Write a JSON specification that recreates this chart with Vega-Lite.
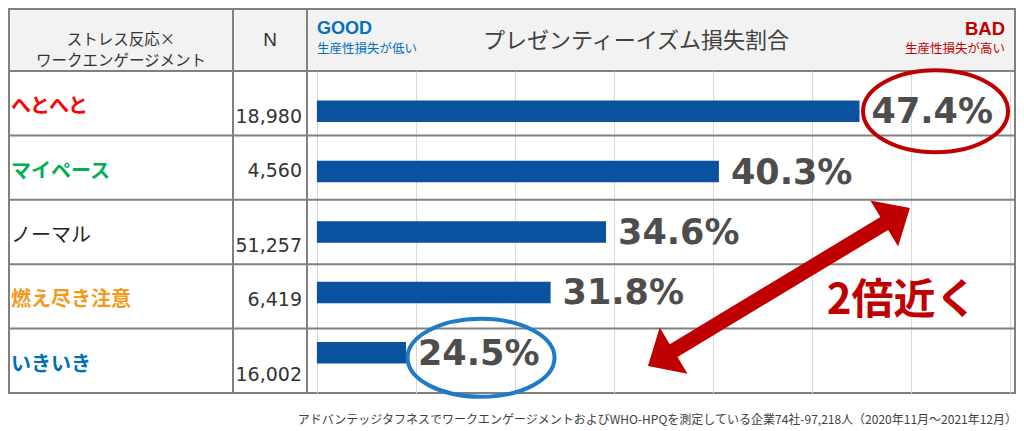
{
  "$schema": "https://vega.github.io/schema/vega-lite/v6.json",
  "padding": {"left": 7, "top": 8, "right": 5, "bottom": 0},
  "background": "white",
  "config": {
    "view": {"stroke": "#808080", "strokeWidth": 2},
    "concat": {"spacing": 0},
    "font": "Noto Sans CJK JP"
  },
  "title": {
    "text": "アドバンテッジタフネスでワークエンゲージメントおよびWHO-HPQを測定している企業74社-97,218人（2020年11月～2021年12月）",
    "orient": "bottom",
    "anchor": "end",
    "baseline": "top",
    "offset": 9,
    "fontSize": 12,
    "fontWeight": "normal",
    "color": "#404040",
    "font": "Noto Sans CJK JP"
  },
  "datasets": {
    "main": [
      {"cat": "へとへと", "N": 18980, "value": 0.474},
      {"cat": "マイペース", "N": 4560, "value": 0.403},
      {"cat": "ノーマル", "N": 51257, "value": 0.346},
      {"cat": "燃え尽き注意", "N": 6419, "value": 0.318},
      {"cat": "いきいき", "N": 16002, "value": 0.245}
    ]
  },
  "columns": 3,
  "spacing": 0,
  "bounds": "flush",
  "concat": [
    {
      "width": 224, "height": 62,
      "view": {"fill": "#f2f2f2", "stroke": "#808080", "strokeWidth": 2},
      "data": {"values": [{}]},
      "mark": {"type": "text", "text": ["ストレス反応×", "ワークエンゲージメント"], "fontSize": 15.5, "lineHeight": 20.5, "align": "center", "baseline": "middle", "fill": "#333333"}
    },
    {
      "width": 74, "height": 62,
      "view": {"fill": "#f2f2f2", "stroke": "#808080", "strokeWidth": 2},
      "data": {"values": [{}]},
      "mark": {"type": "text", "text": "N", "font": "Liberation Sans", "fontSize": 19, "align": "center", "baseline": "middle", "fill": "#333333"}
    },
    {
      "width": 708, "height": 62,
      "view": {"fill": "#f2f2f2", "stroke": "#808080", "strokeWidth": 2},
      "data": {"values": [{}]},
      "layer": [
        {
          "mark": {"type": "text", "text": "GOOD", "font": "Liberation Sans", "fontWeight": "bold", "fontSize": 18, "align": "left", "baseline": "middle", "dy": -11, "fill": "#0070c0"},
          "encoding": {"x": {"datum": 0.2, "type": "quantitative", "scale": {"domain": [0.195, 0.5525], "nice": false, "zero": false}, "axis": null}}
        },
        {
          "mark": {"type": "text", "text": "生産性損失が低い", "fontSize": 12.5, "align": "left", "baseline": "middle", "dy": 8.5, "fill": "#0070c0"},
          "encoding": {"x": {"datum": 0.2, "type": "quantitative"}}
        },
        {
          "mark": {"type": "text", "text": "プレゼンティーイズム損失割合", "fontSize": 22, "align": "center", "baseline": "middle", "dx": -25, "dy": 1, "fill": "#404040"},
          "encoding": {}
        },
        {
          "mark": {"type": "text", "text": "BAD", "font": "Liberation Sans", "fontWeight": "bold", "fontSize": 18.5, "align": "right", "baseline": "middle", "dx": -5, "dy": -11, "fill": "#c00000"},
          "encoding": {"x": {"datum": 0.55, "type": "quantitative"}}
        },
        {
          "mark": {"type": "text", "text": "生産性損失が高い", "fontSize": 12.5, "align": "right", "baseline": "middle", "dx": -5, "dy": 8.5, "fill": "#c00000"},
          "encoding": {"x": {"datum": 0.55, "type": "quantitative"}}
        }
      ]
    },
    {
      "width": 224, "height": 322,
      "data": {"name": "main"},
      "layer": [
        {
          "transform": [{"filter": "datum.cat !== 'へとへと'"}],
          "mark": {"type": "rule", "stroke": "#808080", "strokeWidth": 2},
          "encoding": {"y": {"field": "cat", "type": "nominal", "bandPosition": 0, "sort": null, "scale": {"type": "band", "domain": ["へとへと", "マイペース", "ノーマル", "燃え尽き注意", "いきいき"], "paddingInner": 0, "paddingOuter": 0}, "axis": null}}
        },
        {
          "transform": [{"filter": "datum.cat !== 'ノーマル'"}],
          "mark": {"type": "text", "fontSize": 20, "fontWeight": "bold", "align": "left", "baseline": "middle", "dx": 2, "dy": 4},
          "encoding": {
            "x": {"datum": 0, "type": "quantitative", "scale": {"domain": [0, 1], "nice": false}, "axis": null},
            "y": {"field": "cat", "type": "nominal", "sort": null},
            "text": {"field": "cat"},
            "color": {"field": "cat", "type": "nominal", "scale": {"domain": ["へとへと", "マイペース", "ノーマル", "燃え尽き注意", "いきいき"], "range": ["#ff0000", "#00b050", "#262626", "#f39a1e", "#0070c0"]}, "legend": null}
          }
        },
        {
          "transform": [{"filter": "datum.cat === 'ノーマル'"}],
          "mark": {"type": "text", "fontSize": 20, "fontWeight": "normal", "align": "left", "baseline": "middle", "dx": 2, "dy": 4},
          "encoding": {
            "x": {"datum": 0, "type": "quantitative"},
            "y": {"field": "cat", "type": "nominal", "sort": null},
            "text": {"field": "cat"},
            "color": {"field": "cat", "type": "nominal", "legend": null}
          }
        }
      ]
    },
    {
      "width": 74, "height": 322,
      "data": {"name": "main"},
      "layer": [
        {
          "transform": [{"filter": "datum.cat !== 'へとへと'"}],
          "mark": {"type": "rule", "stroke": "#808080", "strokeWidth": 2},
          "encoding": {"y": {"field": "cat", "type": "nominal", "bandPosition": 0, "sort": null, "scale": {"type": "band", "domain": ["へとへと", "マイペース", "ノーマル", "燃え尽き注意", "いきいき"], "paddingInner": 0, "paddingOuter": 0}, "axis": null}}
        },
        {
          "transform": [{"filter": {"field": "cat", "oneOf": ["へとへと", "ノーマル", "いきいき"]}}],
          "mark": {"type": "text", "font": "DejaVu Sans", "fontSize": 19, "align": "right", "baseline": "middle", "dx": -5, "dy": 14, "fill": "#333333"},
          "encoding": {
            "x": {"datum": 1, "type": "quantitative", "scale": {"domain": [0, 1], "nice": false}, "axis": null},
            "y": {"field": "cat", "type": "nominal", "sort": null},
            "text": {"field": "N", "type": "quantitative", "format": ","}
          }
        },
        {
          "transform": [{"filter": {"field": "cat", "oneOf": ["マイペース", "燃え尽き注意"]}}],
          "mark": {"type": "text", "font": "DejaVu Sans", "fontSize": 19, "align": "right", "baseline": "middle", "dx": -5, "dy": 3.5, "fill": "#333333"},
          "encoding": {
            "x": {"datum": 1, "type": "quantitative"},
            "y": {"field": "cat", "type": "nominal", "sort": null},
            "text": {"field": "N", "type": "quantitative", "format": ","}
          }
        }
      ]
    },
    {
      "width": 708, "height": 322,
      "data": {"name": "main"},
      "resolve": {"scale": {"y": "independent"}},
      "layer": [
        {
          "transform": [{"filter": "datum.cat !== 'へとへと'"}],
          "mark": {"type": "rule", "stroke": "#808080", "strokeWidth": 2},
          "encoding": {"y": {"field": "cat", "type": "nominal", "bandPosition": 0, "sort": null, "scale": {"type": "band", "domain": ["へとへと", "マイペース", "ノーマル", "燃え尽き注意", "いきいき"], "paddingInner": 0, "paddingOuter": 0}, "axis": null}}
        },
        {
          "layer": [
            {
              "mark": {"type": "bar", "color": "#0a52a0"},
              "encoding": {
                "x": {"field": "value", "type": "quantitative", "scale": {"domain": [0.195, 0.5525], "nice": false, "zero": false}, "axis": {"values": [0.2, 0.25, 0.3, 0.35, 0.4, 0.45, 0.5, 0.55], "grid": true, "gridColor": "#d9d9d9", "gridWidth": 1, "labels": false, "ticks": false, "domain": false, "title": null}},
                "x2": {"datum": 0.2},
                "y": {"field": "cat", "type": "nominal", "sort": null, "scale": {"type": "band", "domain": ["へとへと", "マイペース", "ノーマル", "燃え尽き注意", "いきいき"], "paddingInner": 0.644, "paddingOuter": 0.4875}, "axis": null}
              }
            },
            {
              "mark": {"type": "text", "font": "DejaVu Sans", "fontWeight": "bold", "fontSize": 35, "align": "left", "baseline": "middle", "dx": 12, "dy": 1, "fill": "#4d4d4d"},
              "encoding": {
                "x": {"field": "value", "type": "quantitative"},
                "y": {"field": "cat", "type": "nominal", "sort": null},
                "text": {"field": "value", "type": "quantitative", "format": ".1%"}
              }
            },
            {
              "transform": [{"filter": "datum.cat === 'へとへと'"}],
              "mark": {"type": "point", "shape": "M 3.5 0 A 72.5 41 0 1 0 148.5 0 A 72.5 41 0 1 0 3.5 0 Z", "size": 4, "filled": false, "stroke": "#c00000", "strokeWidth": 4, "opacity": 1},
              "encoding": {
                "x": {"field": "value", "type": "quantitative"},
                "y": {"field": "cat", "type": "nominal", "sort": null}
              }
            },
            {
              "transform": [{"filter": "datum.cat === 'いきいき'"}],
              "mark": {"type": "point", "shape": "M 1.5 5 A 73.5 39 0 1 0 148.5 5 A 73.5 39 0 1 0 1.5 5 Z", "size": 4, "filled": false, "stroke": "#1f7bc8", "strokeWidth": 4, "opacity": 1},
              "encoding": {
                "x": {"field": "value", "type": "quantitative"},
                "y": {"field": "cat", "type": "nominal", "sort": null}
              }
            },
            {
              "data": {"values": [{}]},
              "mark": {"type": "point", "shape": "M 131 -84.3 L 91.4 -92 L 101.4 -75.3 L -109.2 51.8 L -119.2 35.1 L -131 73.6 L -91.4 81.3 L -101.4 64.6 L 109.2 -62.5 L 119.2 -45.8 Z", "size": 4, "filled": true, "fill": "#c00000", "strokeWidth": 0, "opacity": 1},
              "encoding": {
                "x": {"datum": 0.4333, "type": "quantitative"},
                "y": {"datum": "燃え尽き注意", "type": "nominal"}
              }
            },
            {
              "data": {"values": [{}]},
              "mark": {"type": "text", "text": "2倍近く", "fontSize": 42, "fontWeight": "bold", "align": "center", "baseline": "middle", "dy": 9, "fill": "#c00000"},
              "encoding": {
                "x": {"datum": 0.4955, "type": "quantitative"},
                "y": {"datum": "燃え尽き注意", "type": "nominal"}
              }
            }
          ]
        }
      ]
    }
  ]
}
